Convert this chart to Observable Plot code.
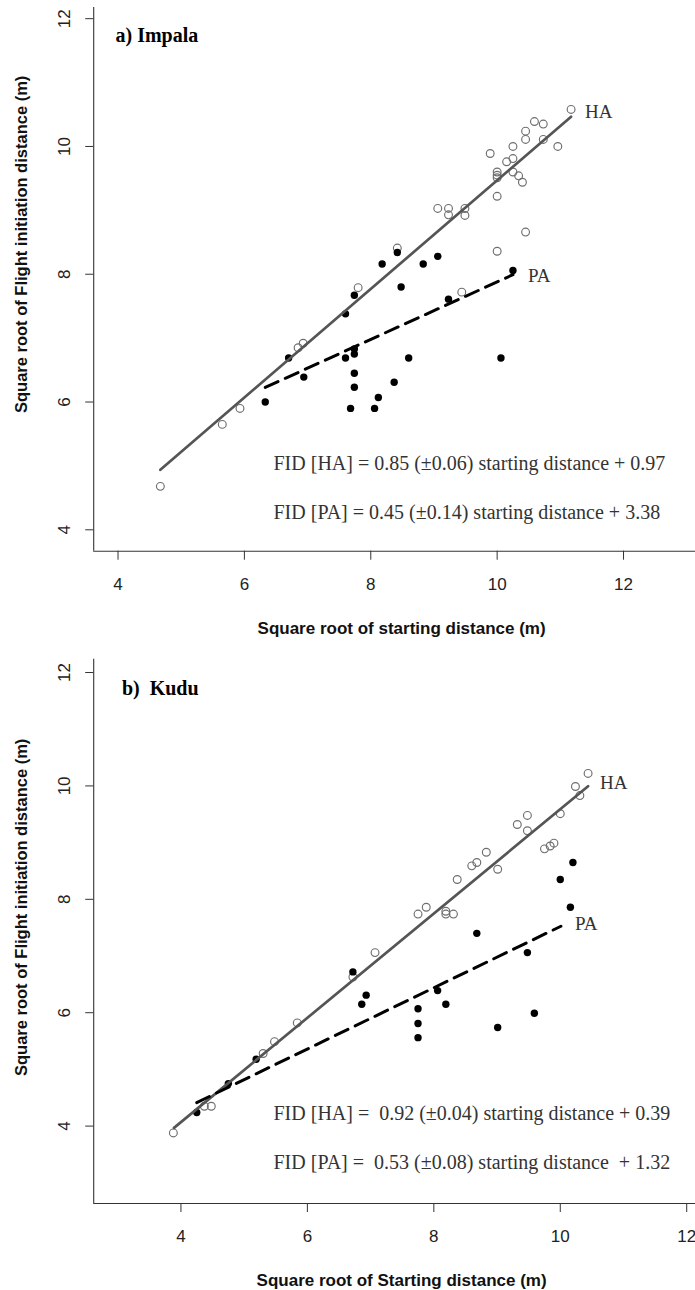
<!DOCTYPE html>
<html><head><meta charset="utf-8">
<script src="https://cdn.jsdelivr.net/npm/d3@7"></script>
<script src="https://cdn.jsdelivr.net/npm/@observablehq/plot@0.6"></script>
<style>
html,body{margin:0;padding:0;background:#fff;overflow:hidden}
#chart svg{display:block}
</style></head><body><div id="chart"></div>
<script>
// ---------- data ----------
const xTicks = [4, 6, 8, 10, 12];
const yTicks = [4, 6, 8, 10, 12];

// a) Impala — HA (open circles)
const impalaHAx = [11.17,10.59,10.73,10.45,10.45,10.73,10.96,10.25,9.89,10.15,10.25,10.25,10.34,10.40,10.00,10.00,10.00,10.00,9.06,9.23,9.23,9.49,9.49,10.45,10.00,8.42,9.44,7.80,6.93,6.85,5.93,5.65,4.67];
const impalaHAy = [10.58,10.39,10.35,10.24,10.11,10.11,10.00,10.00,9.89,9.76,9.81,9.60,9.54,9.44,9.60,9.55,9.51,9.22,9.03,9.03,8.93,9.03,8.92,8.66,8.36,8.41,7.72,7.79,6.92,6.85,5.90,5.65,4.68];
// a) Impala — PA (filled)
const impalaPAx = [8.42,8.18,8.83,9.06,8.48,10.25,7.74,9.23,7.60,6.70,6.94,6.33,7.60,7.74,7.74,7.74,7.74,7.68,8.06,8.12,8.37,8.60,10.06];
const impalaPAy = [8.34,8.16,8.16,8.28,7.80,8.06,7.67,7.61,7.38,6.69,6.39,6.00,6.69,6.83,6.75,6.45,6.23,5.90,5.90,6.07,6.31,6.69,6.69];

// b) Kudu — HA (open circles)
const kuduHAx = [10.44,10.24,10.31,10.00,9.48,9.32,9.48,9.75,9.84,9.90,8.83,8.60,8.68,9.01,8.37,7.75,7.88,8.19,8.19,8.31,7.07,6.72,5.84,5.48,5.30,4.37,4.48,3.88];
const kuduHAy = [10.22,9.99,9.83,9.51,9.48,9.32,9.21,8.89,8.94,8.99,8.83,8.59,8.65,8.53,8.35,7.74,7.86,7.79,7.74,7.74,7.06,6.63,5.82,5.49,5.28,4.35,4.35,3.88];
// b) Kudu — PA (filled)
const kuduPAx = [10.20,10.00,10.16,8.68,9.48,6.72,6.93,6.86,8.06,8.19,7.75,7.75,7.75,9.01,9.59,5.19,4.75,4.25];
const kuduPAy = [8.65,8.35,7.86,7.40,7.06,6.72,6.31,6.15,6.39,6.15,6.07,5.81,5.56,5.74,5.99,5.18,4.75,4.24];

// fitted lines as drawn: x range, slope, intercept
const impalaFitHA = {range: [4.67, 11.17], slope: 0.85, intercept: 0.97};
const impalaFitPA = {range: [6.33, 10.25], slope: 0.45, intercept: 3.38};
const kuduFitHA   = {range: [3.89, 10.44], slope: 0.92, intercept: 0.39};
const kuduFitPA   = {range: [4.25, 10.01], slope: 0.54, intercept: 2.12};

const impalaEq = ["FID [HA] = 0.85 (±0.06) starting distance + 0.97",
                  "FID [PA] = 0.45 (±0.14) starting distance + 3.38"];
const kuduEq   = ["FID [HA] =\u00a0 0.92 (±0.04) starting distance + 0.39",
                  "FID [PA] =\u00a0 0.53 (±0.08) starting distance\u00a0 + 1.32"];
const yTitle = "Square root of Flight initiation distance (m)";

// ---------- drawing ----------
const SANS = "'Liberation Sans', Arial, sans-serif";
const SERIF = "'Liberation Serif', 'Times New Roman', serif";
const pts = (xs, ys) => xs.map((x, i) => ({x, y: ys[i]}));
const fitPts = f => f.range.map(x => ({x, y: f.slope * x + f.intercept}));

function panel(o) {
  const ha = fitPts(o.fitHA), pa = fitPts(o.fitPA);
  const marks = [
    // L-shaped box
    Plot.ruleX([o.xDomain[0]], {stroke: "#333", strokeWidth: 1.1}),
    Plot.ruleY([o.yDomain[0]], {stroke: "#333", strokeWidth: 1.1}),
    // ticks
    Plot.axisX({ticks: xTicks, tickSize: 9, tickFormat: () => "", label: null, stroke: "#333"}),
    Plot.axisY({ticks: yTicks, tickSize: 8, tickFormat: () => "", label: null, stroke: "#333"}),
    // tick labels
    Plot.text(xTicks, {x: d => d, frameAnchor: "bottom", dy: 33.5, text: d => String(d),
      textAnchor: "middle", lineAnchor: "middle", fontSize: 17, fill: "#222", fontFamily: SANS}),
    Plot.text(yTicks, {y: d => d, frameAnchor: "left", dx: -28.7, text: d => String(d), rotate: -90,
      textAnchor: "middle", lineAnchor: "middle", fontSize: 17, fill: "#222", fontFamily: SANS}),
    // axis titles
    Plot.text([o.xTitle], {frameAnchor: "bottom", dx: 7, dy: 77.5, text: d => d,
      textAnchor: "middle", lineAnchor: "middle", fontSize: 17, fontWeight: "bold", fill: "#111", fontFamily: SANS}),
    Plot.text([yTitle], {frameAnchor: "left", dx: -71.5, dy: o.yTitleDy, text: d => d, rotate: -90,
      textAnchor: "middle", lineAnchor: "middle", fontSize: 16.5, fontWeight: "bold", fill: "#111", fontFamily: SANS}),
    // points
    Plot.dot(pts(o.haX, o.haY), {x: "x", y: "y", r: 3.9, stroke: "#6e6e6e", strokeWidth: 1.15, fill: "none"}),
    Plot.dot(pts(o.paX, o.paY), {x: "x", y: "y", r: 3.7, fill: "#000", stroke: "none"}),
    // fitted lines
    Plot.line(ha, {x: "x", y: "y", stroke: "#555", strokeWidth: 2.7}),
    Plot.line(pa, {x: "x", y: "y", stroke: "#000", strokeWidth: 3, strokeDasharray: "14,8", strokeLinecap: "round"}),
    // line labels
    Plot.text([ha[1]], {x: "x", y: "y", text: () => "HA", textAnchor: "start", lineAnchor: "middle",
      dx: o.haDx, dy: o.haDy, fontSize: 19, fill: "#333", fontFamily: SERIF}),
    Plot.text([pa[1]], {x: "x", y: "y", text: () => "PA", textAnchor: "start", lineAnchor: "middle",
      dx: o.paDx, dy: o.paDy, fontSize: 19, fill: "#333", fontFamily: SERIF}),
    // panel title
    Plot.text([o.title], {frameAnchor: "top-left", dx: o.titleDx, dy: o.titleDy, text: d => d,
      textAnchor: "start", lineAnchor: "middle", fontSize: 20, fontWeight: "bold", fill: "#000", fontFamily: SERIF})
  ];
  o.eqs.forEach((e, i) => marks.push(
    Plot.text([e], {frameAnchor: "top-left", dx: 179.8, dy: o.eqDy[i], text: d => d,
      textAnchor: "start", lineAnchor: "middle", fontSize: 20, fill: "#333", fontFamily: SERIF})));
  return Plot.plot({
    width: 695, height: o.height,
    marginLeft: 93.2, marginRight: 0, marginTop: o.marginTop, marginBottom: o.marginBottom,
    inset: 0,
    style: `font-family:${SANS}; background:#fff; max-width:none; overflow:visible;`,
    x: {domain: o.xDomain, axis: null},
    y: {domain: o.yDomain, axis: null},
    marks
  });
}

const chart = document.getElementById("chart");
chart.append(panel({
  height: 640, marginTop: 7, marginBottom: 89.3,
  xDomain: [3.615, 13.139], yDomain: [3.665, 12.175],
  haX: impalaHAx, haY: impalaHAy, paX: impalaPAx, paY: impalaPAy,
  fitHA: impalaFitHA, fitPA: impalaFitPA,
  haDx: 14, haDy: -5, paDx: 15, paDy: 1,
  title: "a) Impala", titleDx: 21.8, titleDy: 28,
  eqs: impalaEq, eqDy: [456, 505],
  xTitle: "Square root of starting distance (m)", yTitleDy: -35
}));
chart.append(panel({
  height: 650, marginTop: 18.7, marginBottom: 87,
  xDomain: [2.62, 12.139], yDomain: [2.635, 12.235],
  haX: kuduHAx, haY: kuduHAy, paX: kuduPAx, paY: kuduPAy,
  fitHA: kuduFitHA, fitPA: kuduFitPA,
  haDx: 12, haDy: -3, paDx: 14, paDy: -2,
  title: "b)\u00a0 Kudu", titleDx: 28.2, titleDy: 29.5,
  eqs: kuduEq, eqDy: [454.5, 503.5],
  xTitle: "Square root of Starting distance (m)", yTitleDy: -24
}));
</script></body></html>
